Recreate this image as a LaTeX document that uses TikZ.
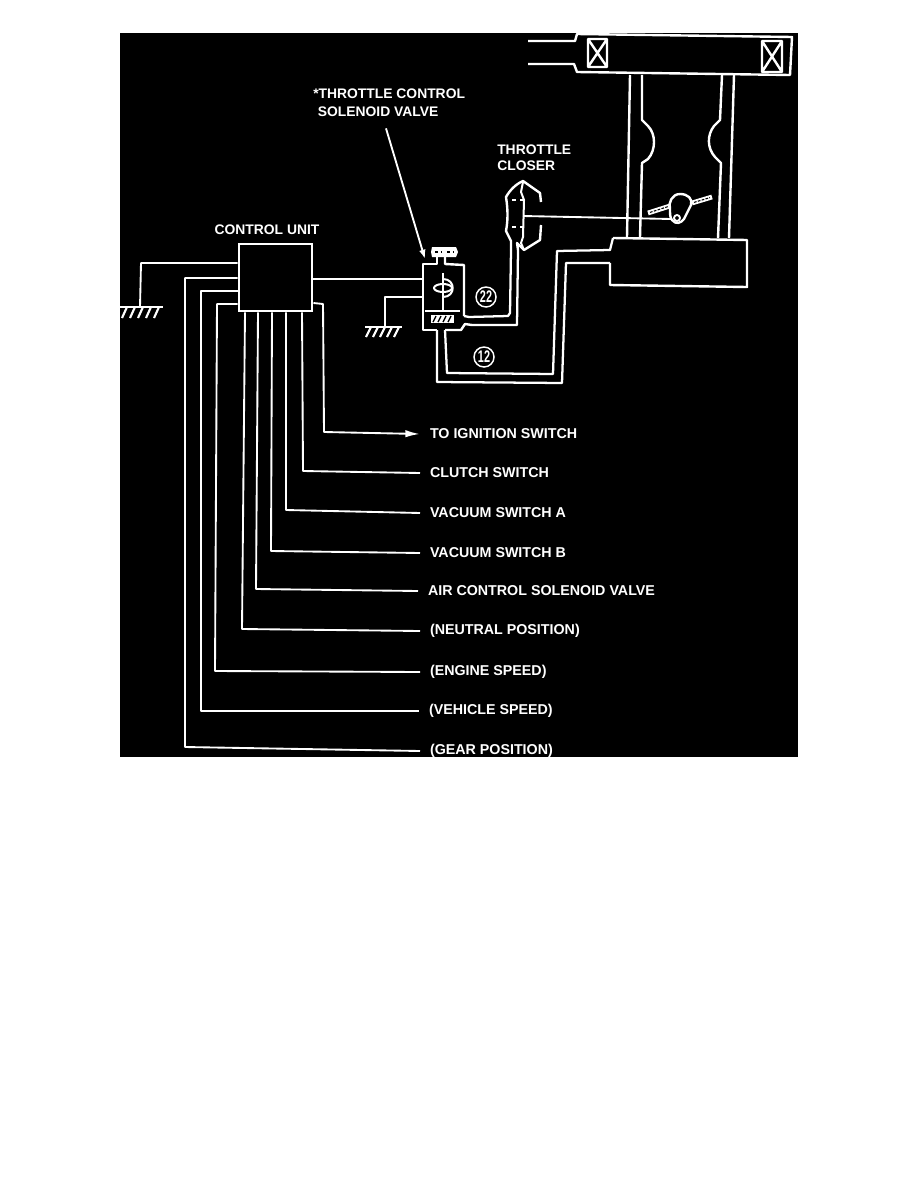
\documentclass[tikz,border=0pt]{standalone}
\usepackage{fontspec}
\setmainfont{Liberation Sans}
\usetikzlibrary{arrows.meta}
\tikzset{
  x=0.75pt,y=-0.75pt,
  wire/.style={draw=white,line width=1.4pt,line join=round},
  body/.style={draw=white,line width=1.8pt,line join=round},
  lab/.style={text=white,font=\bfseries\fontsize{10.7}{12}\selectfont,anchor=west,inner sep=0pt,outer sep=7.5pt},
  head/.style={text=white,font=\bfseries\fontsize{10.4}{12}\selectfont,inner sep=0pt,align=left},
  num/.style={draw=white,line width=1.1pt,circle,minimum size=15pt,inner sep=0pt,text=white,font=\bfseries\fontsize{10.5}{12}\selectfont},
  hatch/.style={draw=black,line width=1.2pt,dash pattern=on 2.2pt off 2.2pt}
}
\begin{document}
\begin{tikzpicture}
\useasboundingbox (0,0) rectangle (918,1188);
\fill[white] (0,0) rectangle (918,1188);
\fill[black] (120,33) rectangle (798,757);

% ---- labels
\node[head,anchor=center] (tcu) at (267,230) {CONTROL UNIT};
\node[head,anchor=north west] (tsol) at (313,89) {*THROTTLE CONTROL\\[1.5pt]\hspace*{3.5pt}SOLENOID VALVE};
\node[head,anchor=north west] (tclo) at (497,145) {THROTTLE\\CLOSER};
\node[lab] (lign) at (420,434) {TO IGNITION SWITCH};
\node[lab] (lclu) at (420,473) {CLUTCH SWITCH};
\node[lab] (lvaca) at (420,513) {VACUUM SWITCH A};
\node[lab] (lvacb) at (420,553) {VACUUM SWITCH B};
\node[lab] (lair) at (418,591) {AIR CONTROL SOLENOID VALVE};
\node[lab] (lneu) at (420,631) {(NEUTRAL POSITION)};
\node[lab] (leng) at (420,672) {(ENGINE SPEED)};
\node[lab] (lveh) at (419,711) {(VEHICLE SPEED)};
\node[lab] (lgea) at (420,751) {(GEAR POSITION)};

% ---- control unit
\node[draw=white,line width=2.2pt,minimum width=54.75pt,minimum height=50.25pt,inner sep=0pt] (cu) at (275.5,277.5) {};
\coordinate (gndL) at (140,307);
\coordinate (gndR) at (385,327);
\draw[wire] (cu.west |- 0,263) -- (141,263) -- (gndL);
\draw[wire] (cu.west |- 0,278) -- (185,278) -- (185,747) -- (lgea.west);
\draw[wire] (cu.west |- 0,291) -- (201,291) -- (201,711) -- (lveh.west);
\draw[wire] (cu.west |- 0,304) -- (217,304) -- (215,671) -- (leng.west);
\draw[wire] (cu.south -| 245,0) -- (242,629) -- (lneu.west);
\draw[wire] (cu.south -| 258,0) -- (256,589) -- (lair.west);
\draw[wire] (cu.south -| 272,0) -- (271,551) -- (lvacb.west);
\draw[wire] (cu.south -| 286,0) -- (286,510) -- (lvaca.west);
\draw[wire] (cu.south -| 302,0) -- (303,471) -- (lclu.west);
\draw[wire,-{Latex[length=11pt,width=5.5pt]}] (cu.east |- 0,303) -- (323,304) -- (324,432) -- (lign.west);

% ---- grounds
\draw[wire,line width=1.6pt] (120,307) -- (163,307);
\foreach \gx in {127,135,143,151,159} \draw[wire,line width=1.6pt] (\gx,307) -- (\gx-5,318);
\draw[wire,line width=1.6pt] (365,327) -- (402,327);
\foreach \gx in {371,378,385,392,399} \draw[wire,line width=1.6pt] (\gx,327) -- (\gx-5,337);

% ---- solenoid valve
\coordinate (valveIn) at (423,279);
\coordinate (valveGnd) at (423,297);
\coordinate (valveTop) at (425,259);
\draw[wire] (cu.east |- valveIn) -- (valveIn);
\draw[wire] (valveGnd) -- (385,297) -- (gndR);
\draw[wire,-{Latex[length=7pt,width=5pt]}] (tsol.south -| 386,0) ++(0,11) -- (valveTop);
\draw[body] (437,257) -- (437,264) -- (423,264) -- (423,330) -- (437,330);
\draw[body] (445,257) -- (445,264) -- (464,265) -- (464,316);
\draw[wire] (425,311) -- (460,311);
\draw[body] (445,330) -- (461,330) -- (465,324) -- (472,325);
\draw[wire] (443,273) -- (443,310);
\draw[wire,line width=1.5pt] (443,288) ellipse (9 and 4);
\draw[wire,line width=1.5pt] (443,279) .. controls (456,279) and (456,297) .. (443,297);
\fill[white] (432,247) -- (456,247) -- (458,252) -- (456,257) -- (432,257) -- (431,252) -- cycle;
\draw[hatch,line width=1.4pt] (435,252) -- (441,252);
\draw[hatch,line width=1.4pt] (447,252) -- (453,252);
\fill[white] (431,315) rectangle (454,323);
\foreach \hx in {436,441,446,451} \draw[black,line width=1pt] (\hx,316) -- (\hx-3,322);

% ---- vacuum lines
\coordinate (cl) at (511,250);
\coordinate (cr) at (518,250);
\draw[wire,line width=1.7pt] (464,316) -- (469,317) -- (508,316) -- (510,313) -- (cl);
\draw[wire,line width=1.7pt] (472,325) -- (517,325) -- (cr);
\draw[wire,line width=1.7pt] (445,330) -- (447,373) -- (553,374) -- (557,251) -- (610,250) -- (613,238);
\draw[wire,line width=1.7pt] (437,330) -- (437,382) -- (562,383) -- (566,263) -- (610,263);
\node[num] (n22) at (486,297) {\scalebox{.78}[1.2]{22}};
\node[num] (n12) at (484,357) {\scalebox{.78}[1.2]{12}};

% ---- throttle closer
\draw[body] (cl) -- (511,241) -- (506,231) .. controls (508,220) and (508,210) .. (506,197) .. controls (510,190) and (516,184) .. (523,181) -- (540,193) -- (541,202);
\draw[body] (541,225) -- (540,240) -- (524,250) -- (517,243) -- (cr);
\draw[wire,line width=1.5pt] (523,182) -- (521,192) -- (524,200) -- (523,237) -- (521,243) -- (524,250);
\draw[white,line width=1.8pt,dash pattern=on 3pt off 3pt] (512,200) -- (523,200);
\draw[white,line width=1.8pt,dash pattern=on 3pt off 3pt] (512,227) -- (523,227);

% ---- throttle body
\coordinate (rodEnd) at (671,219);
\draw[wire] (523,216) -- (rodEnd);
\draw[white,line width=3.6pt] (648,213) -- (670,206) (692,203) -- (712,197);
\draw[hatch,line width=.8pt,dash pattern=on 2pt off 1pt] (650,212.4) -- (668,206.6) (694,202.4) -- (710,197.6);
\draw[body,fill=black] (680,194) .. controls (672,194) and (668,203) .. (670,209) .. controls (670,214) and (670,218) .. (672,220) .. controls (676,225) and (681,223) .. (684,219) -- (691,205) .. controls (693,199) and (688,194) .. (680,194) -- cycle;
\draw[wire] (677,218) circle (3);

% ---- carburettor
\draw[body] (627,237) -- (630,75);
\draw[body] (640,237) -- (642,163) -- (648,159) .. controls (656,150) and (656,134) .. (648,126) -- (642,120) -- (642,75);
\draw[body] (729,238) -- (734,75);
\draw[body] (718,238) -- (721,163) -- (715,157) .. controls (707,148) and (707,135) .. (714,126) -- (720,120) -- (722,75);
\draw[body] (613,238) -- (747,240) -- (747,287) -- (610,285) -- (610,263);
\draw[body] (528,41) -- (575,41) -- (577,34) -- (792,37) -- (790,75) -- (577,72) -- (574,64) -- (528,64);
\draw[body] (588,39) rectangle (607,67) (588,39) -- (607,67) (607,39) -- (588,67);
\draw[body] (762,41) rectangle (782,72) (762,41) -- (782,72) (782,41) -- (762,72);
\end{tikzpicture}
\end{document}
